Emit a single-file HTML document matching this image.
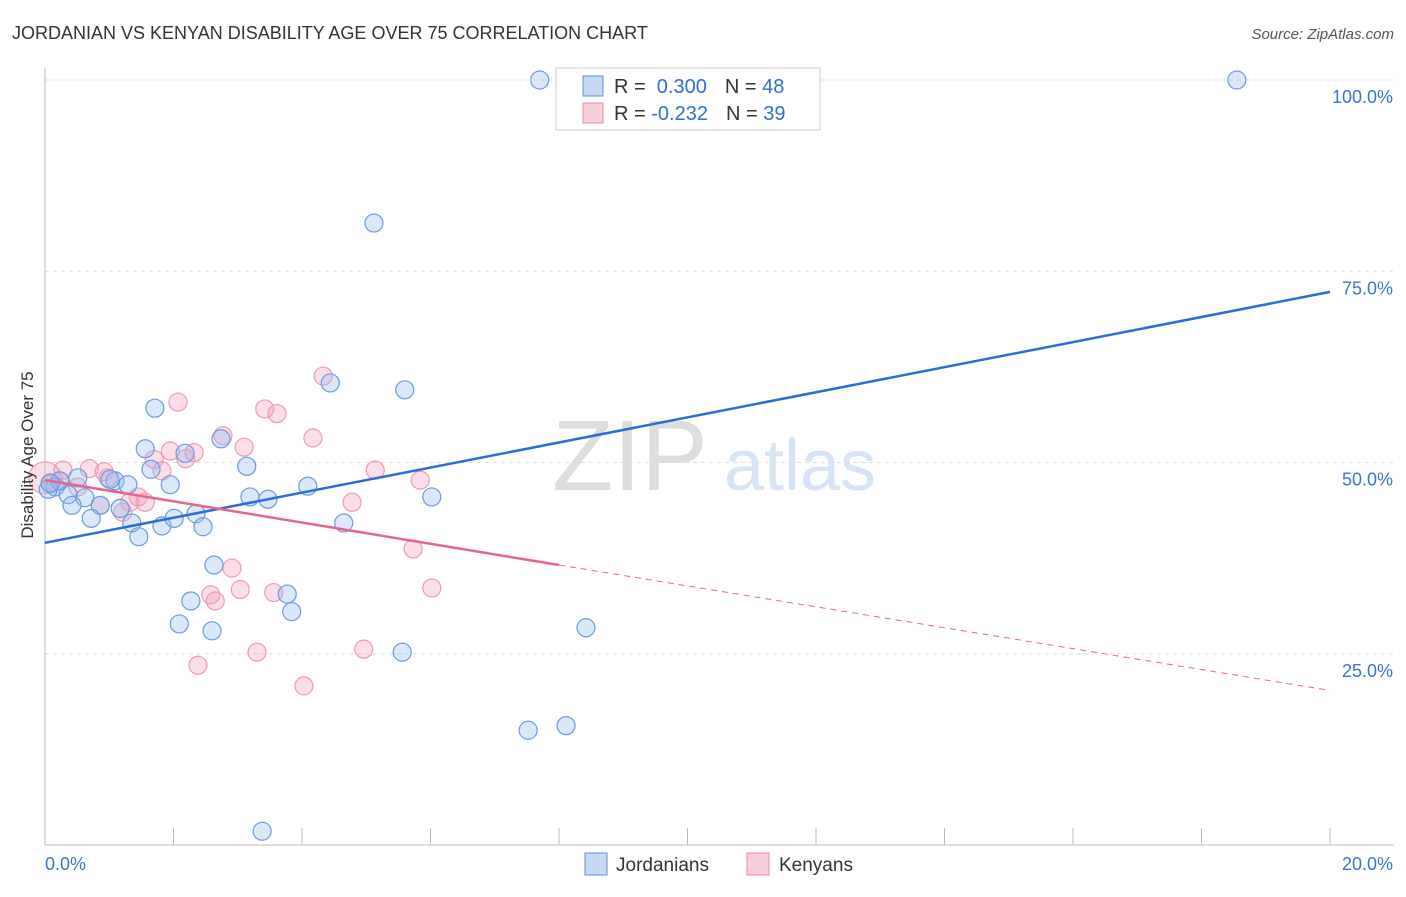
<!DOCTYPE html>
<html><head><meta charset="utf-8"><style>
body{margin:0;background:#fff;font-family:"Liberation Sans",sans-serif;}
svg text{font-family:"Liberation Sans",sans-serif;}
</style></head><body>
<svg id="chart" width="1406" height="892">
<text x="12" y="39" font-size="18" fill="#333">JORDANIAN VS KENYAN DISABILITY AGE OVER 75 CORRELATION CHART</text>
<text x="1394" y="39" font-size="15" fill="#555" font-style="italic" text-anchor="end">Source: ZipAtlas.com</text>
<text x="630" y="490" font-size="100" fill="#ddd" font-family="Liberation Serif" text-anchor="middle">ZIP</text>
<text x="800" y="490" font-size="72" fill="#d6e4f5" text-anchor="middle">atlas</text>
<g id="grid"></g><g id="axes"></g><g id="pts"></g><g id="lines"></g>
<text transform="translate(33,455) rotate(-90)" font-size="17" fill="#333" text-anchor="middle">Disability Age Over 75</text>
<g>
<rect x="556" y="68" width="264" height="62" fill="#fff" stroke="#ccc"/>
<rect x="583" y="76" width="20" height="20" fill="#c5d9f5" stroke="#5b8fd9"/>
<rect x="583" y="103" width="20" height="20" fill="#f9cfdc" stroke="#e98aaa"/>
<text x="614" y="93" font-size="20" fill="#333">R = <tspan fill="#2f6fd0">&#160;0.300</tspan><tspan dx="18">N = </tspan><tspan fill="#2f6fd0">48</tspan></text>
<text x="614" y="120" font-size="20" fill="#333">R = <tspan fill="#2f6fd0">-0.232</tspan><tspan dx="18">N = </tspan><tspan fill="#2f6fd0">39</tspan></text>
</g>
<g>
<rect x="585" y="853" width="22" height="22" fill="#c5d9f5" stroke="#5b8fd9"/>
<text x="616" y="871" font-size="19" fill="#333">Jordanians</text>
<rect x="747" y="853" width="22" height="22" fill="#f9cfdc" stroke="#e98aaa"/>
<text x="779" y="871" font-size="19" fill="#333">Kenyans</text>
</g>
</svg>
<script>
const yTicks=[25,50,75,100];
const yTickLabels=["25.0%","50.0%","75.0%","100.0%"];
const xTickLabels=["0.0%","20.0%"];
const jordX=[7.7,18.55,5.12,4.44,5.6,1.71,1.56,2.18,2.74,3.14,1.65,1.95,0.51,1.09,1.29,0.16,0.05,0.36,0.62,0.42,0.86,1.17,0.72,1.35,1.46,1.82,2.01,2.35,2.46,3.19,3.47,4.09,4.65,6.02,2.63,2.27,3.77,3.84,2.09,2.6,5.56,8.42,7.52,8.11,3.38,0.23,1.01,0.08];
const jordY=[100,100,81.3,60.4,59.5,57.1,51.8,51.2,53.1,49.5,49.1,47.1,48.0,47.6,47.1,46.8,46.5,45.8,45.4,44.4,44.4,44.0,42.7,42.1,40.3,41.7,42.7,43.3,41.6,45.5,45.2,46.9,42.1,45.5,36.6,31.9,32.8,30.5,28.9,28.0,25.2,28.4,15.0,15.6,1.8,47.6,47.8,47.3];
const kenX=[0.0,0.28,0.69,0.92,0.51,1.45,1.56,1.32,1.21,2.07,1.70,1.82,1.95,2.19,2.32,2.77,3.1,3.42,3.61,4.17,4.33,4.78,5.14,5.84,5.73,6.02,2.91,2.58,2.65,3.04,3.56,2.38,3.30,4.03,4.96,0.98,0.23,0.86,0.09];
const kenY=[48.0,49.0,49.2,48.8,46.8,45.5,44.8,44.8,43.5,57.9,50.4,48.9,51.5,50.5,51.3,53.5,52.0,57.0,56.4,53.2,61.3,44.8,49.0,47.7,38.7,33.6,36.2,32.7,31.9,33.4,33.0,23.5,25.2,20.8,25.6,48.0,47.6,44.4,47.2];
const jordLine=[0,39.5,20,72.3];
const kenLine=[0,47.7,8.0,36.6,20,20.2];
const X=v=>45+v/20*1285, Y=v=>845-v*7.65;
const NS="http://www.w3.org/2000/svg";
function mk(tag,at,parent){const e=document.createElementNS(NS,tag);for(const k in at)e.setAttribute(k,at[k]);document.getElementById(parent).appendChild(e);return e;}
yTicks.forEach((t,i)=>{
 const g=mk('line',{x1:45,x2:1394,y1:Y(t),y2:Y(t),stroke:'#ddd','stroke-dasharray':'4,4'},'grid');
 
 
 const tx=mk('text',{x:1393,y:Y(t)+23,'font-size':18,fill:'#3a74d0','text-anchor':'end'},'axes');
 tx.textContent=yTickLabels[i];
 
 
});
mk('line',{x1:45,x2:45,y1:68,y2:845,stroke:'#bbb'},'axes');
mk('line',{x1:45,x2:1394,y1:845,y2:845,stroke:'#bbb'},'axes');
for(let i=1;i<=10;i++){mk('line',{x1:X(i*2),x2:X(i*2),y1:828,y2:845,stroke:'#bbb'},'axes');}
[[0,45,'start'],[1,1393,'end']].forEach(([i,x,a])=>{
 const t=mk('text',{x:x,y:870,'font-size':18,fill:'#3a74d0','text-anchor':a},'axes');
 t.textContent=xTickLabels[i];
 
 
});
kenX.forEach((v,i)=>{
 const c=mk('circle',{cx:X(v),cy:Y(kenY[i]),r:i==0?16:9,fill:'rgba(243,160,190,0.35)',stroke:'#ec9bb6','stroke-width':1.2},'pts');
 
 
});
jordX.forEach((v,i)=>{
 const c=mk('circle',{cx:X(v),cy:Y(jordY[i]),r:9,fill:'rgba(150,190,240,0.35)',stroke:'#6b9be0','stroke-width':1.2},'pts');
 
 
});
const bl=mk('line',{x1:X(jordLine[0]),y1:Y(jordLine[1]),x2:X(jordLine[2]),y2:Y(jordLine[3]),stroke:'#2a6dd6','stroke-width':2.5},'lines');


const pl=mk('line',{x1:X(kenLine[0]),y1:Y(kenLine[1]),x2:X(kenLine[2]),y2:Y(kenLine[3]),stroke:'#e8648f','stroke-width':2.5},'lines');


const pd=mk('line',{x1:X(kenLine[2]),y1:Y(kenLine[3]),x2:X(kenLine[4]),y2:Y(kenLine[5]),stroke:'#e8648f','stroke-width':1,'stroke-dasharray':'6,5'},'lines');


</script>
</body></html>
